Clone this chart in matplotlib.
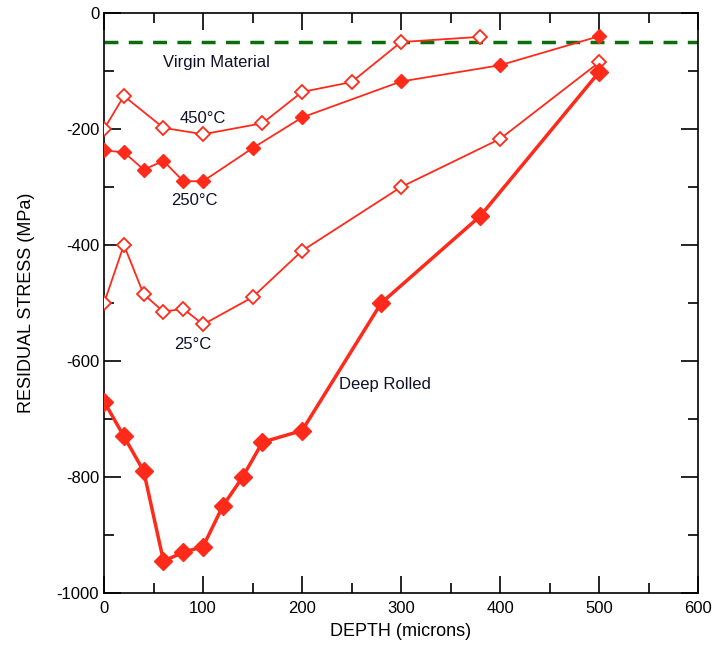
import matplotlib.pyplot as plt
from matplotlib.ticker import MultipleLocator

plt.rcParams['font.family'] = ['Liberation Sans', 'DejaVu Sans']
plt.rcParams['axes.unicode_minus'] = False

# data
depth_450 = [0, 20, 60, 100, 160, 200, 250, 300, 380]
stress_450 = [-200, -143, -198, -209, -190, -136, -119, -50, -41]

depth_250 = [0, 20, 40, 60, 80, 100, 150, 200, 300, 400, 500]
stress_250 = [-237, -240, -270, -255, -290, -290, -233, -180, -118, -90, -40]

depth_25 = [0, 20, 40, 60, 80, 100, 150, 200, 300, 400, 500]
stress_25 = [-500, -400, -485, -515, -510, -537, -490, -410, -300, -217, -85]

depth_deep = [0, 20, 40, 60, 80, 100, 120, 140, 160, 200, 280, 380, 500]
stress_deep = [-670, -730, -790, -945, -930, -920, -850, -800, -740, -720, -500, -350, -102]

virgin_stress = -50

red = '#ff2a1a'

fig = plt.figure(figsize=(7.13, 6.53), dpi=100)
ax = fig.add_axes([0.146, 0.092, 0.833, 0.888])

ax.axhline(virgin_stress, color='#0a6e0a', lw=2.5, ls=(0, (4, 3)), zorder=1)

ax.plot(depth_450, stress_450, color=red, lw=1.3, marker='D', ms=7,
        mfc='white', mec=red, mew=1.3, zorder=3)
ax.plot(depth_250, stress_250, color=red, lw=1.3, marker='D', ms=7,
        mfc=red, mec=red, zorder=3)
ax.plot(depth_25, stress_25, color=red, lw=1.3, marker='D', ms=7,
        mfc='white', mec=red, mew=1.3, zorder=3)
ax.plot(depth_deep, stress_deep, color=red, lw=2.5, marker='D', ms=9,
        mfc=red, mec=red, zorder=3)

lab = dict(fontsize=12, va='center', color='#10102a')
ax.text(59, -85, 'Virgin Material', **lab)
ax.text(76, -182, '450\u00b0C', **lab)
ax.text(68, -324, '250\u00b0C', **lab)
ax.text(71, -571, '25\u00b0C', **lab)
ax.text(237, -640, 'Deep Rolled', **lab)

ax.set_xlim(0, 600)
ax.set_ylim(-1000, 0)
ax.xaxis.set_major_locator(MultipleLocator(100))
ax.xaxis.set_minor_locator(MultipleLocator(50))
ax.yaxis.set_major_locator(MultipleLocator(200))
ax.yaxis.set_minor_locator(MultipleLocator(100))
ax.tick_params(which='both', direction='in', top=True, right=True, width=1.2, labelsize=12)
ax.tick_params(which='major', length=12)
ax.tick_params(which='minor', length=7)
ax.tick_params(axis='x', pad=6)
for s in ax.spines.values():
    s.set_linewidth(1.2)

ax.set_xlabel('DEPTH (microns)', fontsize=13, labelpad=5)
ax.set_ylabel('RESIDUAL STRESS (MPa)', fontsize=13, labelpad=16)

fig.savefig('out.png', dpi=100)
